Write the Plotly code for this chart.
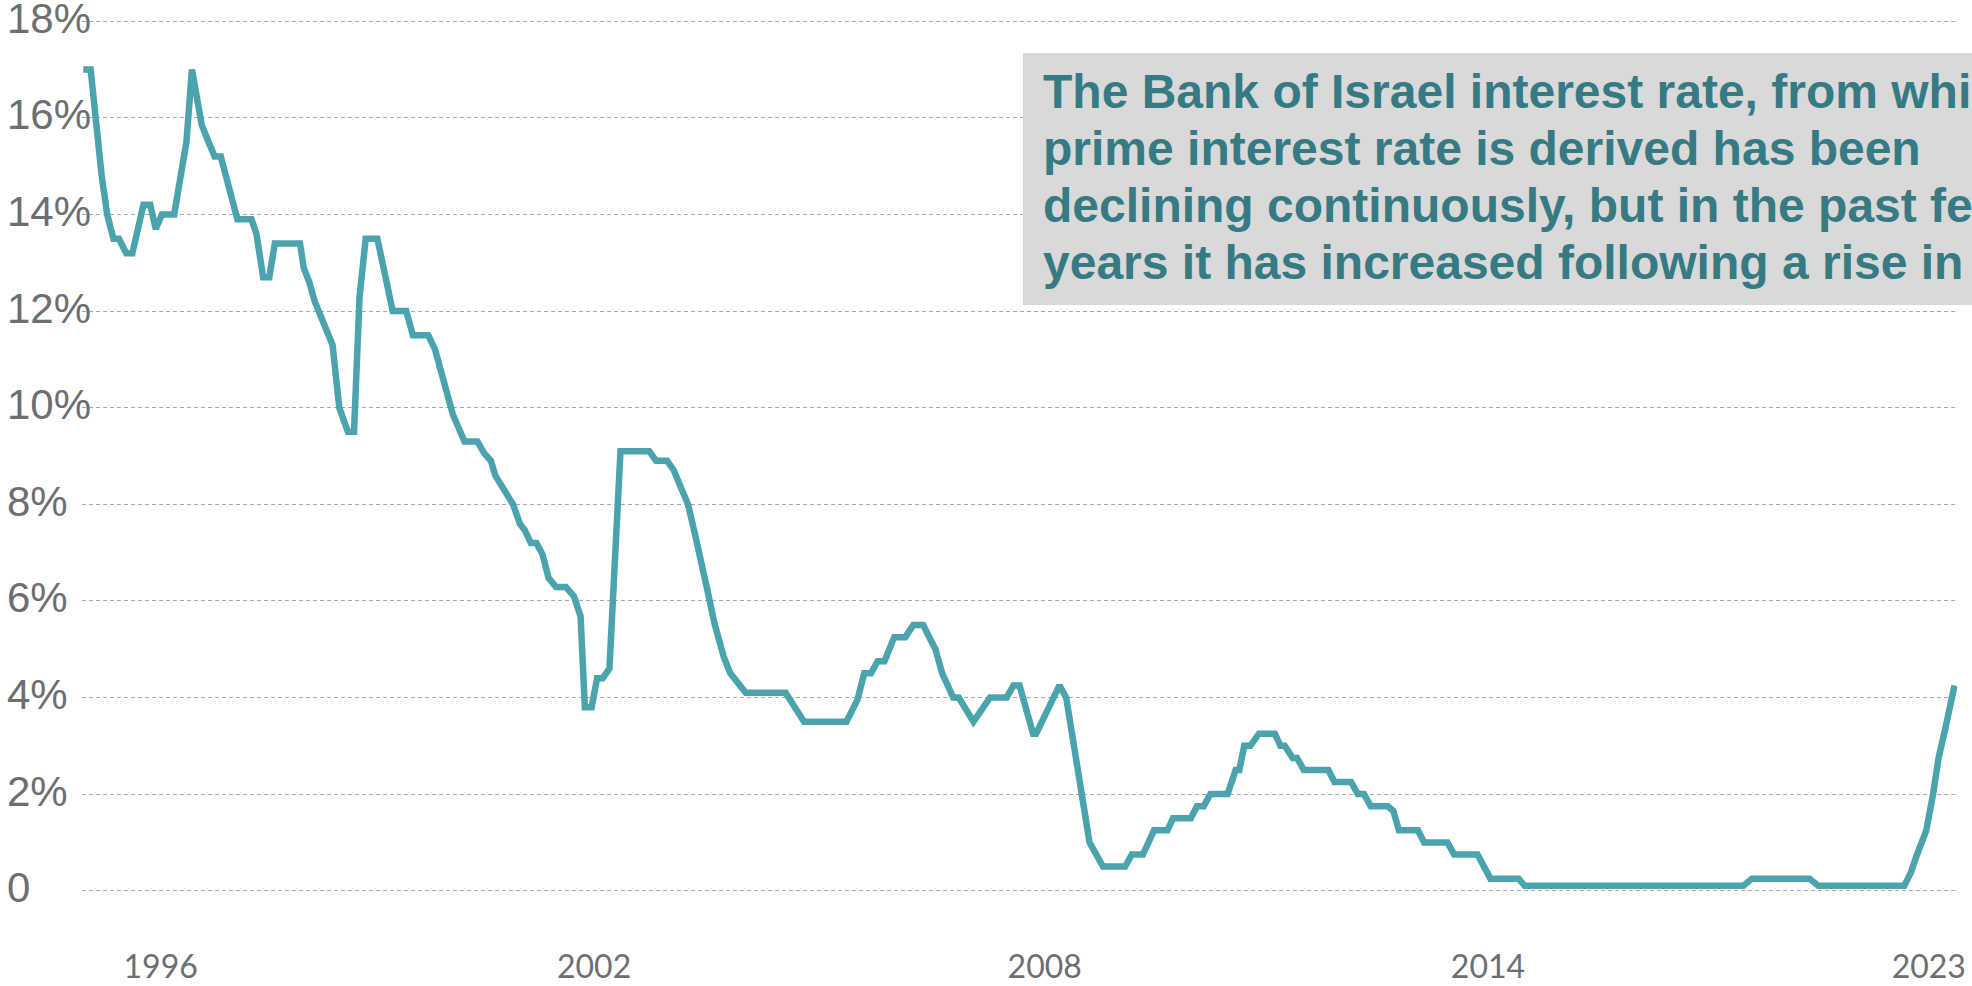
# BANK OF ISRAEL INTEREST RATE

import plotly.graph_objects as go

### DATA

# observation number (evenly spaced categories, as in the source chart) and rate in %
period = [
    0.0, 1.2, 3.0, 3.9, 4.9, 5.8, 7.0, 8.0, 9.8, 10.9,
    11.8, 12.8, 14.8, 16.2, 16.8, 17.7, 18.5, 19.3, 20.4, 21.4,
    22.4, 23.9, 25.1, 27.4, 28.2, 29.3, 30.3, 31.2, 35.3, 35.9,
    36.8, 37.7, 40.6, 41.7, 43.1, 44.1, 45.0, 46.0, 47.9, 50.4,
    52.6, 53.7, 56.2, 57.3, 58.4, 60.2, 62.1, 64.2, 65.3, 66.4,
    67.1, 70.0, 71.1, 71.9, 72.9, 73.8, 74.8, 75.8, 77.0, 78.6,
    79.9, 81.0, 81.7, 82.8, 83.7, 84.6, 85.7, 86.4, 87.5, 92.2,
    93.3, 95.1, 96.2, 97.0, 98.5, 99.6, 101.0, 101.7, 102.8, 104.3,
    105.4, 106.5, 107.9, 114.4, 117.4, 124.3, 126.1, 127.2, 128.3, 129.4,
    130.5, 132.1, 133.9, 135.2, 136.8, 138.8, 139.9, 141.7, 142.6, 145.0,
    147.7, 150.4, 151.5, 152.5, 154.7, 155.2, 159.0, 160.1, 163.9, 166.1,
    169.7, 170.8, 172.6, 174.4, 176.6, 177.5, 180.4, 181.4, 182.5, 183.6,
    186.4, 187.7, 188.3, 189.1, 190.1, 191.5, 194.1, 195.0, 195.7, 197.0,
    197.7, 198.8, 202.8, 203.8, 206.5, 207.6, 208.6, 209.7, 212.5, 213.4,
    214.3, 217.4, 218.4, 222.2, 223.3, 227.1, 229.2, 233.8, 234.8, 270.4,
    271.8, 281.2, 282.6, 296.6, 297.6, 298.7, 300.2, 301.3, 302.2, 303.2,
    304.8,
]
rate = [
    17.0, 17.0, 14.8, 14.0, 13.5, 13.5, 13.2, 13.2, 14.2, 14.2,
    13.7, 14.0, 14.0, 15.0, 15.5, 17.0, 16.4, 15.85, 15.5, 15.2,
    15.2, 14.4, 13.9, 13.9, 13.6, 12.7, 12.7, 13.4, 13.4, 12.9,
    12.6, 12.2, 11.3, 10.0, 9.5, 9.5, 12.3, 13.5, 13.5, 12.0,
    12.0, 11.5, 11.5, 11.2, 10.65, 9.86, 9.3, 9.3, 9.06, 8.9,
    8.6, 8.0, 7.6, 7.47, 7.2, 7.2, 6.96, 6.47, 6.29, 6.29,
    6.1, 5.68, 3.8, 3.8, 4.4, 4.4, 4.6, 6.4, 9.1, 9.1,
    8.9, 8.9, 8.7, 8.45, 8.0, 7.4, 6.5, 6.2, 5.54, 4.85,
    4.5, 4.3, 4.1, 4.1, 3.5, 3.5, 3.95, 4.5, 4.5, 4.75,
    4.75, 5.25, 5.25, 5.5, 5.5, 5.0, 4.5, 4.0, 4.0, 3.5,
    4.0, 4.0, 4.25, 4.25, 3.25, 3.25, 4.25, 4.0, 1.0, 0.5,
    0.5, 0.75, 0.75, 1.25, 1.25, 1.5, 1.5, 1.75, 1.75, 2.0,
    2.0, 2.5, 2.5, 3.0, 3.0, 3.25, 3.25, 3.0, 3.0, 2.75,
    2.75, 2.5, 2.5, 2.25, 2.25, 2.0, 2.0, 1.75, 1.75, 1.65,
    1.25, 1.25, 1.0, 1.0, 0.75, 0.75, 0.25, 0.25, 0.1, 0.1,
    0.25, 0.25, 0.1, 0.1, 0.35, 0.75, 1.25, 2.0, 2.75, 3.3,
    4.25,
]

x_tick_pos = [12.6, 83.2, 156.6, 228.8, 300.6]
x_tick_text = ["1996", "2002", "2008", "2014", "2023"]

y_tick_vals = [0, 2, 4, 6, 8, 10, 12, 14, 16, 18]
y_tick_text = ["0", "2%", "4%", "6%", "8%", "10%", "12%", "14%", "16%", "18%"]

note_lines = [
    "The Bank of Israel interest rate, from which the",
    "prime interest rate is derived has been",
    "declining continuously, but in the past few",
    "years it has increased following a rise in inflation",
]

### LAYOUT HELPERS

W, H = 1972, 986
M_L, M_R, M_T, M_B = 82, 15, 12, 81


def px_x(px):
    # pixel -> paper x
    return (px - M_L) / (W - M_L - M_R)


def px_y(py):
    # pixel -> paper y
    return (H - M_B - py) / (H - M_T - M_B)


line_color = "#4ba3ae"
text_teal = "#367a84"
grey_text = "#6d6e71"

### VISUALISATION

fig = go.Figure()

fig.add_trace(
    go.Scatter(
        x=period,
        y=rate,
        mode="lines",
        line=dict(color=line_color, width=6.5),
        hovertemplate="%{y:.2f}%<extra></extra>",
    )
)

# y labels sit flush left, so they are annotations
for v, t in zip(y_tick_vals, y_tick_text):
    fig.add_annotation(
        x=px_x(5), xref="paper", xanchor="left",
        y=v, yref="y", yanchor="middle", yshift=3,
        text=t, showarrow=False,
        font=dict(family="Liberation Sans, Arial", size=42, color=grey_text),
    )

# grey note box
fig.add_shape(
    type="rect", xref="paper", yref="paper",
    x0=px_x(1023), x1=px_x(2000), y0=px_y(305), y1=px_y(53),
    fillcolor="#d9d9d9", line=dict(width=0), layer="above",
)

for i, line in enumerate(note_lines):
    fig.add_annotation(
        x=px_x(1041), xref="paper", xanchor="left",
        y=px_y(92 + i * 56.7), yref="paper", yanchor="middle",
        text=line, showarrow=False,
        font=dict(family="Liberation Sans, Arial", size=48, color=text_teal, weight="bold"),
    )

fig.update_xaxes(
    range=[-0.21, 305.2],
    tickvals=x_tick_pos,
    ticktext=x_tick_text,
    tickfont=dict(family="Lato, Liberation Sans", size=32, color=grey_text),
    ticks="",
    ticklabelstandoff=40,
    showgrid=False,
    zeroline=False,
    showline=False,
    automargin=False,
)

fig.update_yaxes(
    range=[-0.296, 18.193],
    tickvals=y_tick_vals,
    showticklabels=False,
    showgrid=True,
    gridcolor="#a6a6a6",
    gridwidth=1.3,
    griddash="4px,3px",
    zeroline=False,
    showline=False,
    automargin=False,
)

fig.update_layout(
    width=W,
    height=H,
    margin=dict(l=M_L, r=M_R, t=M_T, b=M_B),
    plot_bgcolor="white",
    paper_bgcolor="white",
    showlegend=False,
)

# drop the default page margin so the figure fills the window exactly
fig.write_html(
    "out.html",
    config={"displayModeBar": False},
    post_script="document.body.style.margin = '0';",
)
